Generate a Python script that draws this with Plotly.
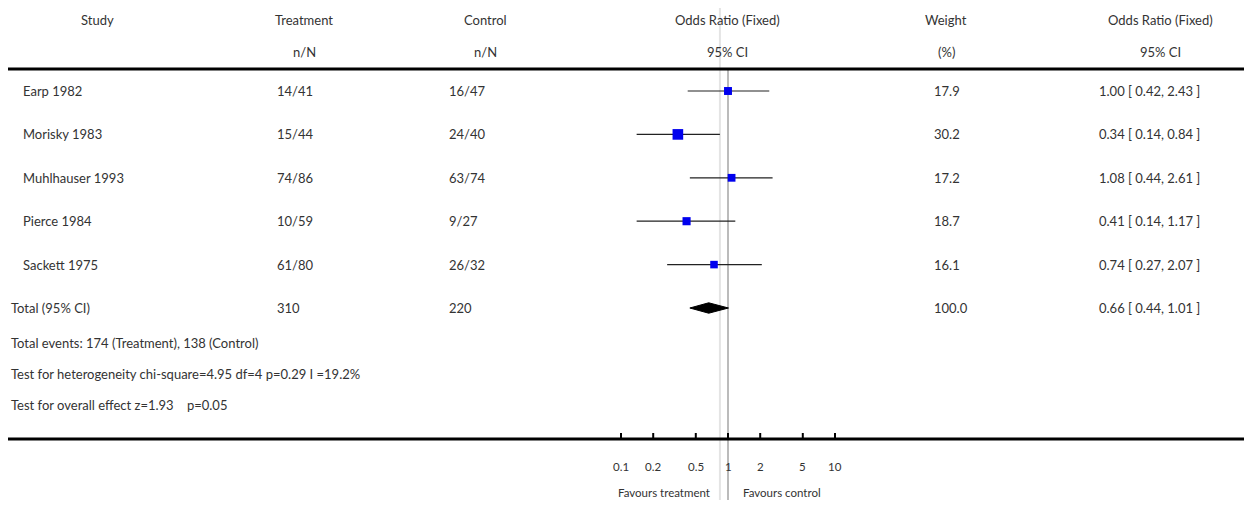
import math
import plotly.graph_objects as go

studies = ['Earp 1982', 'Morisky 1983', 'Muhlhauser 1993', 'Pierce 1984', 'Sackett 1975']
treat = ['14/41', '15/44', '74/86', '10/59', '61/80']
control = ['16/47', '24/40', '63/74', '9/27', '26/32']
odds = [1.00, 0.34, 1.08, 0.41, 0.74]
lower = [0.42, 0.14, 0.44, 0.14, 0.27]
upper = [2.43, 0.84, 2.61, 1.17, 2.07]
weight = [17.9, 30.2, 17.2, 18.7, 16.1]
total_or, total_lo, total_hi = 0.66, 0.44, 1.01
total_treat, total_control, total_weight = '310', '220', '100.0'
footer = ['Total events: 174 (Treatment), 138 (Control)',
          'Test for heterogeneity chi-square=4.95 df=4 p=0.29 I =19.2%',
          'Test for overall effect z=1.93    p=0.05']
ticks = [0.1, 0.2, 0.5, 1, 2, 5, 10]
tick_text = ['0.1', '0.2', '0.5', '1', '2', '5', '10']

W, H = 1236, 492
# log axis: 0.1 at px 613, 107 px per decade
x0 = -1 - 613 / 107
x1 = x0 + W / 107
# y in rows: row 0 at px 83, 43.4 px per row
def row(p):
    return (p - 83) / 43.4

def px(x):
    return x / W

txt = dict(family='Lato, Open Sans, sans-serif', size=13, color='#333')
fig = go.Figure()

# reference lines
fig.add_shape(type='line', xref='x', yref='y', x0=1, x1=1, y0=row(62), y1=row(H),
              line=dict(color='#bbb', width=2), layer='below')
fig.add_shape(type='line', xref='x', yref='y', x0=0.84, x1=0.84, y0=row(0), y1=row(H),
              line=dict(color='#e4e4e4', width=2), layer='below')
# thick rules
for yy in [61, 431]:
    fig.add_shape(type='line', xref='paper', yref='y', x0=0, x1=1, y0=row(yy), y1=row(yy),
                  line=dict(color='black', width=3))

for i in range(len(studies)):
    fig.add_trace(go.Scatter(x=[lower[i], upper[i]], y=[i, i], mode='lines',
                             line=dict(color='#222', width=1.2), showlegend=False))
    fig.add_trace(go.Scatter(x=[odds[i]], y=[i], mode='markers', showlegend=False,
                             marker=dict(symbol='square', color='#0000ee',
                                         size=4 + weight[i] * 0.22)))
# diamond
fig.add_trace(go.Scatter(x=[total_lo, total_or, total_hi, total_or, total_lo],
                         y=[5, 5 - 0.12, 5, 5 + 0.12, 5], fill='toself',
                         fillcolor='black', line=dict(color='black', width=1),
                         mode='lines', showlegend=False))
# bottom ticks
for t in ticks:
    fig.add_trace(go.Scatter(x=[t, t], y=[row(431), row(425)], mode='lines',
                             line=dict(color='black', width=2), showlegend=False))

ann = []
def add(x, y, text, anchor='left', xref='paper', size=13):
    f = dict(txt)
    f['size'] = size
    ann.append(dict(x=x, y=y, xref=xref, yref='y', text=text, showarrow=False,
                    xanchor=anchor, font=f))

headers = [(89, 'Study', ''), (296, 'Treatment', 'n/N'), (477, 'Control', 'n/N'),
           (719, 'Odds Ratio (Fixed)', '95% CI'), (938, 'Weight', '(%)'),
           (1152, 'Odds Ratio (Fixed)', '95% CI')]
for hx, h1, h2 in headers:
    add(px(hx), row(12), h1, 'center')
    if h2:
        add(px(hx), row(44), h2, 'center')

for i in range(len(studies)):
    add(px(13), i, studies[i])
    add(px(267), i, treat[i])
    add(px(439), i, control[i])
    add(px(924), i, f'{weight[i]:.1f}')
    add(px(1089), i, f'{odds[i]:.2f} [ {lower[i]:.2f}, {upper[i]:.2f} ]')
add(px(1), 5, 'Total (95% CI)')
add(px(267), 5, total_treat)
add(px(439), 5, total_control)
add(px(924), 5, total_weight)
add(px(1089), 5, f'{total_or:.2f} [ {total_lo:.2f}, {total_hi:.2f} ]')
for j, line in enumerate(footer):
    add(px(1), row(335 + 31 * j), line)
for t, tt in zip(ticks, tick_text):
    add(math.log10(t), row(458), tt, 'center', xref='x', size=11.5)
add(px(704), row(484), 'Favours treatment', 'right', size=11.5)
add(px(733), row(484), 'Favours control', 'left', size=11.5)

fig.update_layout(width=W, height=H, margin=dict(l=0, r=0, t=0, b=0),
                  plot_bgcolor='white', paper_bgcolor='white', annotations=ann,
                  xaxis=dict(type='log', range=[x0, x1], visible=False),
                  yaxis=dict(range=[row(H), row(0)], visible=False))
fig.write_html('out.html')
